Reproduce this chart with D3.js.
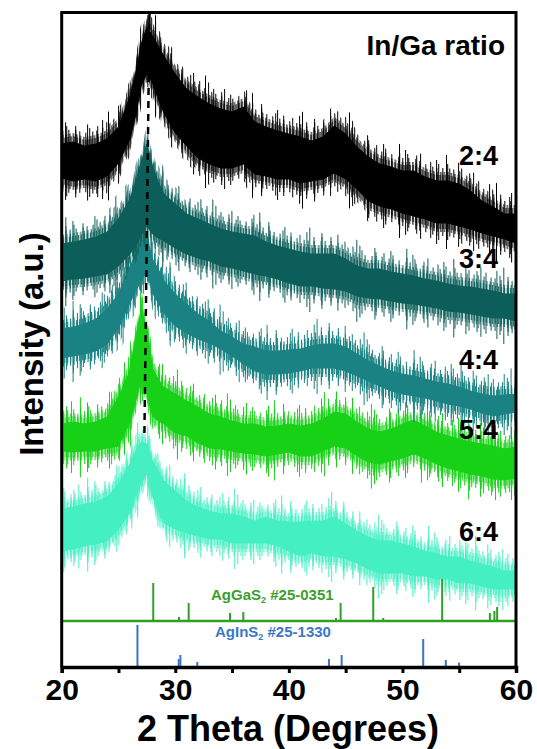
<!DOCTYPE html>
<html>
<head>
<meta charset="utf-8">
<script src="https://cdn.jsdelivr.net/npm/d3@7"></script>
<style>
  html, body { margin: 0; padding: 0; background: #fff; }
  svg text { font-family: "Liberation Sans", Arial, sans-serif; font-weight: bold; }
</style>
</head>
<body>
<svg id="chart" width="537" height="749"></svg>
<script>
// ---------------- DATA ----------------
const thetas = [20,21,22,23,24,25,26,26.5,27,27.5,28,28.5,29,30,31,32,33,34,35,36,37,38,39,40,41,42,43,44,45,46,47,48,49,50,51,52,53,54,55,56,57,58,59,60];

const seriesNames = ["2:4", "3:4", "4:4", "5:4", "6:4"];

// upper / lower envelope of each noisy trace (a.u.)
const hi24 = [527,529,525,527,532,544,574,597,627,644,635,625,615,597,582,574,567,562,559,564,549,544,540,537,534,530,534,545,537,524,514,507,504,500,500,494,490,490,487,480,470,464,457,457];
const lo24 = [485,482,484,482,487,500,524,547,577,590,580,564,550,530,517,505,499,495,495,499,489,487,484,484,480,482,484,490,484,474,462,457,454,450,447,444,440,440,437,434,430,427,424,420];

const hi34 = [427,429,431,434,439,452,472,489,509,527,505,489,477,467,457,452,447,442,439,437,435,429,425,422,419,417,417,417,412,405,402,402,399,397,395,392,390,387,385,384,382,380,377,377];
const lo34 = [382,384,385,387,389,397,409,417,427,437,429,425,422,415,409,405,402,397,395,392,389,387,384,380,377,377,375,374,372,367,365,364,362,360,359,357,355,352,351,349,347,345,345,342];

const hi44 = [342,344,347,352,362,377,404,417,429,434,412,402,390,377,367,357,350,340,334,327,324,320,320,321,322,325,327,327,324,317,310,305,300,297,295,292,289,287,284,280,277,275,276,277];
const lo44 = [305,307,309,312,319,335,360,372,382,392,370,360,350,337,330,324,320,314,307,299,292,289,289,290,292,295,295,295,292,287,282,277,272,269,267,265,262,259,257,254,250,247,249,251];

const hi54 = [247,249,247,249,254,274,300,332,362,342,302,292,284,277,270,264,257,254,250,247,247,244,245,247,245,247,252,259,257,249,242,239,242,247,251,245,239,235,232,229,227,225,222,224];
const lo54 = [212,211,212,212,215,217,240,262,282,269,247,242,239,230,227,220,215,214,212,210,209,207,209,211,207,207,212,217,215,207,201,199,202,205,209,205,199,195,192,189,187,184,183,185];

const hi64 = [162,164,167,169,174,187,207,219,229,227,210,200,190,180,170,164,160,157,157,154,150,154,150,149,149,150,150,154,147,140,134,130,130,127,124,120,117,114,114,110,107,104,100,100];
const lo64 = [112,114,117,119,122,134,150,167,180,189,167,152,140,134,130,127,124,124,120,120,120,120,117,112,107,110,107,107,104,100,94,90,90,90,87,87,84,84,80,80,77,74,74,74];

// reference patterns: position (2θ) and relative intensity
const agGaS2Pos = [28.06,30.33,31.18,34.82,35.99,44.15,44.56,47.43,48.31,53.5,57.7,58.1,58.34];
const agGaS2Int = [38,4,18,8,9,3,18,34,3,42,8,10,14];
const agInS2Pos = [26.67,30.3,30.45,31.94,43.53,44.65,51.83,53.82,54.99];
const agInS2Int = [42,8,12,5,8,12,28,7,4.5];

const refNames = ["AgGaS", "#25-0351", "AgInS", "#25-1330"];

// dashed guide line (2θ, a.u.)
const guideTheta = [27.73, 27.28];
const guideInt = [654, 230];

const xTicks = [20, 25, 30, 35, 40, 45, 50, 55, 60];
const xTickLabels = ["20", "30", "40", "50", "60"];

// ---------------- LAYOUT / STYLE ----------------
const plot = { left: 61.7, right: 516, top: 12.5, bottom: 667 };
const colors = ["#000000", "#0b5e59", "#1a8282", "#16d116", "#44efc2"];
const labelBaselines = [165, 268, 369, 439, 541];
const greenBase = 46; // a.u. offset of AgGaS2 baseline

// hair layers (rendering style of the noisy traces):
// [extra px beyond envelope, tile width, [stripe x], stripe width]
const hairLayers = [
  [22, 97, [11, 58], 1],
  [17, 53, [7, 29, 44], 1],
  [13, 31, [3, 17, 25], 1],
  [9, 17, [2, 9, 13], 1],
  [5, 7, [0, 3.5], 1.1],
  [2, 3, [0], 1.2]
];

const svg = d3.select("#chart");
const x = d3.scaleLinear().domain([20, 60]).range([plot.left, plot.right]);
const y = d3.scaleLinear().domain([0, 654.5]).range([plot.bottom, plot.top]);

const defs = svg.append("defs");
defs.append("clipPath").attr("id", "clip")
  .append("rect").attr("x", plot.left + 1).attr("y", plot.top)
  .attr("width", plot.right - plot.left - 2).attr("height", plot.bottom - plot.top);

colors.forEach((c, s) => {
  hairLayers.forEach((L, l) => {
    const p = defs.append("pattern").attr("id", `hair${s}_${l}`)
      .attr("patternUnits", "userSpaceOnUse")
      .attr("width", L[1]).attr("height", 10)
      .attr("patternTransform", `translate(${(s * 7.3 + l * 5.1) % L[1]},0)`);
    L[2].forEach(px => p.append("rect").attr("x", px).attr("y", 0)
      .attr("width", L[3]).attr("height", 10).attr("fill", c));
  });
});

const his = [hi24, hi34, hi44, hi54, hi64];
const los = [lo24, lo34, lo44, lo54, lo64];

const g = svg.append("g").attr("clip-path", "url(#clip)");
const band = off => d3.area().x(d => x(d.t))
  .y0(d => y(d.lo) + off).y1(d => y(d.hi) - off);

for (let s = seriesNames.length - 1; s >= 0; s--) {
  const pts = thetas.map((t, i) => ({ t, hi: his[s][i], lo: los[s][i] }));
  const sg = g.append("g");
  hairLayers.forEach((L, l) => {
    sg.append("path").attr("d", band(L[0])(pts)).attr("fill", `url(#hair${s}_${l})`);
  });
  sg.append("path").attr("d", band(-4)(pts))
    .attr("fill", colors[s]).attr("stroke", colors[s]).attr("stroke-width", 1);
}

// dashed guide line
const guide = guideTheta.map((t, i) => ({ t, v: guideInt[i] }));
svg.append("path").datum(guide)
  .attr("d", d3.line().x(d => x(d.t)).y(d => y(d.v)))
  .attr("stroke", "#000").attr("stroke-width", 2.5).attr("fill", "none")
  .attr("stroke-dasharray", "17,6" + ",7,6".repeat(40));

// AgGaS2 reference
svg.append("line")
  .attr("x1", x(20)).attr("x2", x(60)).attr("y1", y(greenBase)).attr("y2", y(greenBase))
  .attr("stroke", "#2fa024").attr("stroke-width", 2.5);
svg.selectAll(".gpk").data(agGaS2Pos).enter().append("line")
  .attr("x1", d => x(d)).attr("x2", d => x(d))
  .attr("y1", y(greenBase)).attr("y2", (d, i) => y(greenBase + agGaS2Int[i]))
  .attr("stroke", "#2fa024").attr("stroke-width", 2);

// AgInS2 reference
svg.selectAll(".bpk").data(agInS2Pos).enter().append("line")
  .attr("x1", d => x(d)).attr("x2", d => x(d))
  .attr("y1", y(0)).attr("y2", (d, i) => y(agInS2Int[i]))
  .attr("stroke", "#3a74c4").attr("stroke-width", 2);

// reference labels
const t1 = svg.append("text").attr("x", 211).attr("y", 600)
  .attr("fill", "#3c9e2e").attr("font-size", 15);
t1.append("tspan").text(refNames[0]);
t1.append("tspan").attr("font-size", 9).attr("dy", 3).text("2");
t1.append("tspan").attr("dy", -3).text(" " + refNames[1]);

const t2 = svg.append("text").attr("x", 215).attr("y", 637)
  .attr("fill", "#3c78c8").attr("font-size", 15);
t2.append("tspan").text(refNames[2]);
t2.append("tspan").attr("font-size", 9).attr("dy", 3).text("2");
t2.append("tspan").attr("dy", -3).text(" " + refNames[3]);

// frame
svg.append("path")
  .attr("d", `M${plot.left},${plot.bottom} V${plot.top} H${plot.right} V${plot.bottom}`)
  .attr("fill", "none").attr("stroke", "#000").attr("stroke-width", 3);

// x axis
const xAxis = d3.axisBottom(x).tickValues(xTicks).tickSize(6)
  .tickFormat(d => xTickLabels.includes(String(d)) ? String(d) : "");
const ax = svg.append("g").attr("transform", `translate(0,${plot.bottom})`).call(xAxis);
ax.select(".domain").attr("stroke-width", 3.5);
ax.selectAll(".tick line").attr("stroke-width", 3);
ax.selectAll(".tick text").attr("font-size", 30).attr("dy", 0).attr("y", 33)
  .attr("font-family", "'Liberation Sans', Arial, sans-serif").attr("font-weight", "bold").attr("fill", "#000");

// axis titles
svg.append("text").attr("x", 288).attr("y", 741)
  .attr("text-anchor", "middle").attr("font-size", 36).text("2 Theta (Degrees)");
svg.append("text").attr("transform", "translate(43,344) rotate(-90)")
  .attr("text-anchor", "middle").attr("font-size", 33).text("Intensity (a.u.)");

// series labels
svg.append("text").attr("x", 505).attr("y", 55).attr("text-anchor", "end")
  .attr("font-size", 28).text("In/Ga ratio");
seriesNames.forEach((n, i) => {
  svg.append("text").attr("x", 498).attr("y", labelBaselines[i]).attr("text-anchor", "end")
    .attr("font-size", 27).text(n);
});
</script>
</body>
</html>
